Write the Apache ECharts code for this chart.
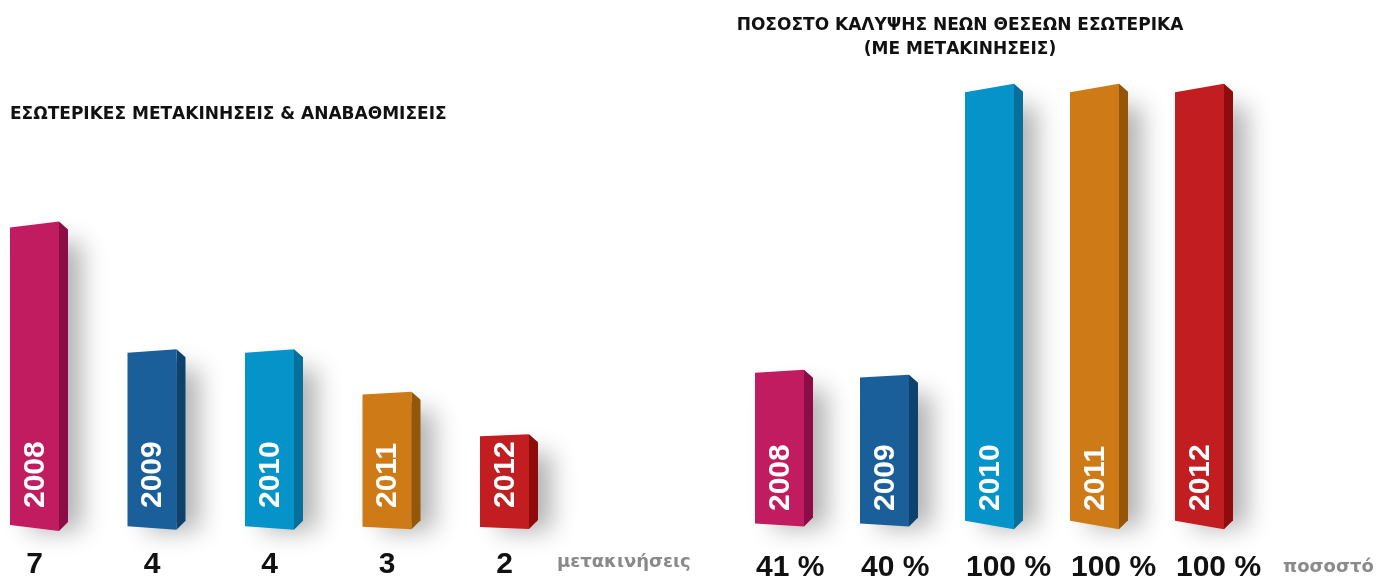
<!DOCTYPE html>
<html>
<head>
<meta charset="utf-8">
<script src="https://cdn.jsdelivr.net/npm/echarts@6/dist/echarts.min.js"></script>
<style>
    html, body { margin: 0; padding: 0; background: #fff; }
    #chartBox { width: 1376px; height: 579px; }
</style>
</head>
<body>
<div id="chartBox"></div>
<script>
// data
const years = ['2008', '2009', '2010', '2011', '2012'];
const moves = [7, 4, 4, 3, 2];
const coverage = [41, 40, 100, 100, 100];
const leftTitle = 'ΕΣΩΤΕΡΙΚΕΣ ΜΕΤΑΚΙΝΗΣΕΙΣ & ΑΝΑΒΑΘΜΙΣΕΙΣ';
const rightTitle = 'ΠΟΣΟΣΤΟ ΚΑΛΥΨΗΣ ΝΕΩΝ ΘΕΣΕΩΝ ΕΣΩΤΕΡΙΚΑ\n(ΜΕ ΜΕΤΑΚΙΝΗΣΕΙΣ)';
const leftUnit = 'μετακινήσεις';
const rightUnit = 'ποσοστό';

// front / side colours per year
const frontColors = ['#C21C61', '#1A5E9A', '#0593C9', '#CE7A16', '#C21D20'];
const sideColors = ['#8C0C46', '#0D426F', '#06709A', '#945707', '#8E0C0C'];

const FRONT = 49;
const SIDE = 9;
const titleFont = 'bold 17px "DejaVu Sans", sans-serif';
const numFont = 'bold 30px "Liberation Sans", Arial, sans-serif';
const yearFont = 'bold 30px "Liberation Sans", Arial, sans-serif';
const unitFont = 'bold 18px "DejaVu Sans", sans-serif';

const chartDom = document.getElementById('chartBox');
const myChart = echarts.init(chartDom);

// 3D bar drawn by hand, label opts differ per panel
function makeRender(yMin, opt) {
    return function (params, api) {
        const idx = api.value(0);
        const val = api.value(1);
        const top = api.coord([idx, val]);
        const base = api.coord([idx, yMin]);
        const cx = top[0];
        const yT = top[1];
        const yB = base[1];
        const h = yB - yT;
        const s = h * 0.02;
        const x0 = cx - FRONT / 2;
        const x1 = cx + FRONT / 2;
        const x2 = x1 + SIDE;
        const front = [[x0, yT + s / 2], [x1, yT - s / 2], [x1, yB + s / 2], [x0, yB - s / 2]];
        const side = [[x1, yT - s / 2], [x2, yT - s / 2 + 8], [x2, yB + s / 2 - 9], [x1, yB + s / 2]];
        const shadow = [[x0 + 4, yT + 10], [x2 - 1, yT + 10], [x2 - 1, yB - 6], [x0 + 4, yB - 4]];
        return {
            type: 'group',
            children: [
                {
                    type: 'polygon',
                    shape: { points: shadow },
                    style: {
                        fill: 'rgba(120,120,120,0.6)',
                        shadowBlur: 24,
                        shadowOffsetX: 15,
                        shadowOffsetY: 8,
                        shadowColor: 'rgba(0,0,0,0.5)'
                    }
                },
                { type: 'polygon', shape: { points: front }, style: { fill: frontColors[idx] } },
                { type: 'polygon', shape: { points: side }, style: { fill: sideColors[idx] } },
                {
                    type: 'text',
                    x: cx + 1,
                    y: yB - opt.yearOffset,
                    rotation: Math.PI / 2,
                    style: {
                        text: years[idx],
                        fill: '#fff',
                        font: yearFont,
                        align: 'left',
                        verticalAlign: 'middle'
                    }
                },
                {
                    type: 'text',
                    x: opt.alignLeft ? x0 + 1 : cx,
                    y: yB + opt.valueOffset,
                    style: {
                        text: val + opt.suffix,
                        fill: '#111',
                        font: numFont,
                        align: opt.alignLeft ? 'left' : 'center',
                        verticalAlign: 'middle'
                    }
                }
            ]
        };
    };
}

const hiddenAxis = {
    axisLine: { show: false },
    axisTick: { show: false },
    axisLabel: { show: false },
    splitLine: { show: false }
};

let option = {
    animation: false,
    graphic: [
        {
            type: 'text',
            left: 10,
            top: 106,
            style: { text: leftTitle, fill: '#111', font: titleFont }
        },
        {
            type: 'text',
            x: 960,
            y: 14,
            style: { text: rightTitle, fill: '#111', font: titleFont, align: 'center', lineHeight: 24 }
        },
        {
            type: 'text',
            left: 557,
            top: 553,
            style: { text: leftUnit, fill: '#8a8a8a', font: unitFont }
        },
        {
            type: 'text',
            left: 1283,
            top: 558,
            style: { text: rightUnit, fill: '#8a8a8a', font: unitFont }
        }
    ],
    grid: [
        { left: 34.5, width: 470, top: 98, bottom: 51 },
        { left: 779.5, width: 420, top: 88, bottom: 54 }
    ],
    xAxis: [
        Object.assign({ type: 'category', gridIndex: 0, boundaryGap: false, data: years }, hiddenAxis),
        Object.assign({ type: 'category', gridIndex: 1, boundaryGap: false, data: years }, hiddenAxis)
    ],
    yAxis: [
        Object.assign({ type: 'value', gridIndex: 0, min: -0.2, max: 10 }, hiddenAxis),
        Object.assign({ type: 'value', gridIndex: 1, min: 9, max: 100 }, hiddenAxis)
    ],
    series: [
        {
            type: 'custom',
            xAxisIndex: 0,
            yAxisIndex: 0,
            clip: false,
            renderItem: makeRender(-0.2, { yearOffset: 20, valueOffset: 37, suffix: '', alignLeft: false }),
            encode: { x: 0, y: 1 },
            data: moves.map((v, i) => [i, v])
        },
        {
            type: 'custom',
            xAxisIndex: 1,
            yAxisIndex: 1,
            clip: false,
            renderItem: makeRender(9, { yearOffset: 14, valueOffset: 43, suffix: ' %', alignLeft: true }),
            encode: { x: 0, y: 1 },
            data: coverage.map((v, i) => [i, v])
        }
    ]
};
myChart.setOption(option);
</script>
</body>
</html>
